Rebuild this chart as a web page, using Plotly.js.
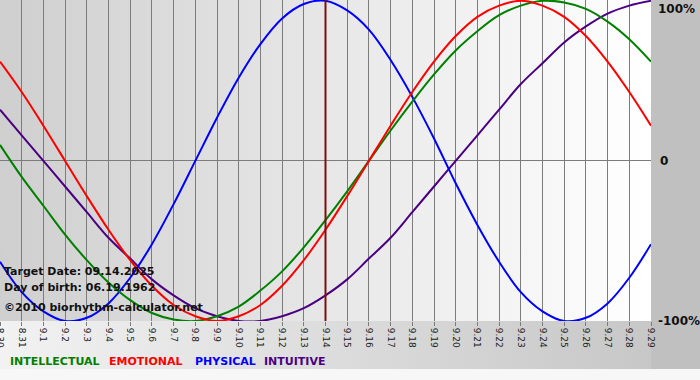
<!DOCTYPE html>
<html><head><meta charset="utf-8">
<script src="https://cdn.plot.ly/plotly-3.0.1.min.js"></script>
<style>
html,body{margin:0;padding:0;}
body{width:700px;height:380px;overflow:hidden;
background:linear-gradient(to bottom, rgba(0,0,0,0) 0px, rgba(0,0,0,0) 369px, #f7f7f7 369px),
linear-gradient(to right,#f2f2f2,#c4c4c4);}
#chart{width:700px;height:380px;}
</style></head>
<body><div id="chart"></div>
<script>
const dates = ['8.30','8.31','9.1','9.2','9.3','9.4','9.5','9.6','9.7','9.8','9.9','9.10','9.11','9.12','9.13','9.14','9.15','9.16','9.17','9.18','9.19','9.20','9.21','9.22','9.23','9.24','9.25','9.26','9.27','9.28','9.29'];
const targetLabel = '9.14';
const targetDate = '09.14.2025';
const birthDate = '06.19.1962';

const physical = [-0.63,-0.82,-0.94,-1.00,-0.98,-0.89,-0.73,-0.52,-0.27,0.00,0.27,0.52,0.73,0.89,0.98,1.00,0.94,0.82,0.63,0.40,0.14,-0.14,-0.40,-0.63,-0.82,-0.94,-1.00,-0.98,-0.89,-0.73,-0.52];
const emotional = [0.62,0.43,0.22,0.00,-0.22,-0.43,-0.62,-0.78,-0.90,-0.97,-1.00,-0.97,-0.90,-0.78,-0.62,-0.43,-0.22,0.00,0.22,0.43,0.62,0.78,0.90,0.97,1.00,0.97,0.90,0.78,0.62,0.43,0.22];
const intellectual = [0.10,-0.10,-0.28,-0.46,-0.62,-0.76,-0.87,-0.95,-0.99,-1.00,-0.97,-0.91,-0.81,-0.69,-0.54,-0.37,-0.19,0.00,0.19,0.37,0.54,0.69,0.81,0.91,0.97,1.00,0.99,0.95,0.87,0.76,0.62];
const intuitive = [0.32,0.16,0.00,-0.16,-0.32,-0.48,-0.61,-0.74,-0.84,-0.92,-0.97,-1.00,-1.00,-0.97,-0.92,-0.84,-0.74,-0.61,-0.48,-0.32,-0.16,0.00,0.16,0.32,0.48,0.61,0.74,0.84,0.92,0.97,1.00];

const seriesNames = ['INTELLECTUAL','EMOTIONAL','PHYSICAL','INTUITIVE'];
const seriesColors = ['#008000','#ff0000','#0000ff','#4b0082'];
const seriesData = [intellectual, emotional, physical, intuitive];
const yLabels = ['100%','0','-100%'];

const font = '"DejaVu Sans", Verdana, sans-serif';
const W = 700, H = 380, L = 0, R = 49, T = 0, B = 59;
const pw = W - L - R, ph = H - T - B;
const px = v => v / pw;            // pixel x -> paper
const py = v => (ph - v) / ph;     // pixel y (from top) -> paper

const traces = [intuitive, physical, intellectual, emotional].map((d) => {
  const i = seriesData.indexOf(d);
  return {x: dates, y: d, type: 'scatter', mode: 'lines', line: {color: seriesColors[i], width: 2, shape: 'spline', smoothing: 1}, hoverinfo: 'skip', showlegend: false};
});

const grad = 'data:image/svg+xml;utf8,' + encodeURIComponent('<svg xmlns="http://www.w3.org/2000/svg" width="100" height="100" preserveAspectRatio="none"><defs><linearGradient id="g" x1="0" x2="1" y1="0" y2="0"><stop offset="0" stop-color="#cfcfcf"/><stop offset="1" stop-color="#ffffff"/></linearGradient></defs><rect width="100" height="100" fill="url(#g)"/></svg>');

const tIdx = dates.indexOf(targetLabel);

const annotations = [
  {text: 'Target Date: ' + targetDate, x: px(2), y: py(271)},
  {text: 'Day of birth: ' + birthDate, x: px(2), y: py(287)},
  {text: '\u00A92010 biorhythm-calculator.net', x: px(2), y: py(307)}
].map(a => Object.assign({xref: 'paper', yref: 'paper', xanchor: 'left', yanchor: 'middle', showarrow: false, font: {family: font, size: 11, color: '#111', weight: 'bold'}}, a));

const legendX = [8, 107, 193, 262];
seriesNames.forEach((n, i) => annotations.push({text: n, xref: 'paper', yref: 'paper', x: px(legendX[i]), y: py(361), xanchor: 'left', yanchor: 'middle', showarrow: false, font: {family: font, size: 11, color: seriesColors[i], weight: 'bold'}}));

const yPos = [[1, 'top', 0], [0, 'middle', 0], [-1, 'middle', 0]];
yLabels.forEach((t, i) => annotations.push({text: t, xref: 'paper', yref: 'y', x: 1, y: yPos[i][0], xanchor: 'left', yanchor: yPos[i][1], xshift: t === '0' ? 7 : 5, yshift: t === '100%' ? 1 : 0, showarrow: false, font: {family: font, size: 12, color: '#111', weight: 'bold'}}));

const layout = {
  width: W, height: H,
  margin: {l: L, r: R, t: T, b: B, pad: 0},
  paper_bgcolor: 'rgba(0,0,0,0)',
  plot_bgcolor: 'rgba(0,0,0,0)',
  xaxis: {type: 'category', range: [0, dates.length - 1], showgrid: true, gridcolor: '#7c7c7c', gridwidth: 1,
          ticks: 'outside', ticklen: 4, tickcolor: '#7c7c7c', tickangle: 90, tickfont: {family: font, size: 9, color: '#222'},
          showline: false, zeroline: false, fixedrange: true},
  yaxis: {range: [-1.0, 1.005], showgrid: false, zeroline: true, zerolinecolor: '#7c7c7c', zerolinewidth: 1, showticklabels: false, ticks: '', showline: false, fixedrange: true},
  images: [{source: grad, xref: 'paper', yref: 'paper', x: 0, y: 1, sizex: 1, sizey: 1, sizing: 'stretch', xanchor: 'left', yanchor: 'top', layer: 'below'}],
  shapes: [
    {type: 'rect', xref: 'paper', yref: 'paper', x0: 1, x1: W / pw, y0: py(369), y1: 1, fillcolor: '#c0c0c0', line: {width: 0}, layer: 'below'},
    {type: 'line', xref: 'x', yref: 'paper', x0: tIdx, x1: tIdx, y0: 0, y1: 1, line: {color: '#7a1010', width: 2}, layer: 'above'}
  ],
  annotations: annotations,
  showlegend: false
};

Plotly.newPlot('chart', traces, layout, {staticPlot: true, displayModeBar: false});
</script>
</body></html>
